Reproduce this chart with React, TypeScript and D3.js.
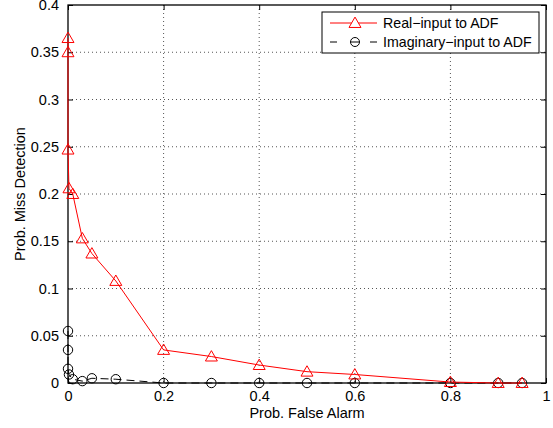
import React, { useEffect, useRef } from "react";
import * as d3 from "d3";

// Real-input to ADF
const realPfa = [0, 0, 0, 0.002, 0.01, 0.03, 0.05, 0.1, 0.2, 0.3, 0.4, 0.5, 0.6, 0.8, 0.9, 0.95];
const realPmd = [0.365, 0.35, 0.247, 0.206, 0.2, 0.153, 0.137, 0.108, 0.035, 0.028, 0.019, 0.012, 0.009, 0.001, 0, 0];

// Imaginary-input to ADF
const imagPfa = [0, 0, 0, 0.002, 0.01, 0.03, 0.05, 0.1, 0.2, 0.3, 0.4, 0.5, 0.6, 0.8, 0.9, 0.95];
const imagPmd = [0.055, 0.035, 0.015, 0.009, 0.004, 0.002, 0.005, 0.004, 0, 0, 0, 0, 0, 0, 0, 0];

const xTicks = [0, 0.2, 0.4, 0.6, 0.8, 1];
const yTicks = [0, 0.05, 0.1, 0.15, 0.2, 0.25, 0.3, 0.35, 0.4];

export default function App() {
  const svgRef = useRef<SVGSVGElement>(null);

  useEffect(() => {
    const width = 553;
    const height = 428;
    const margin = { top: 5, right: 7, bottom: 45, left: 68 };
    const innerW = width - margin.left - margin.right;
    const innerH = height - margin.top - margin.bottom;
    const font = "'Liberation Sans', Arial, Helvetica, sans-serif";
    const fs = 14.5;

    const svg = d3.select(svgRef.current);
    svg.selectAll("*").remove();
    svg.attr("width", width).attr("height", height);

    svg.append("rect").attr("width", width).attr("height", height).attr("fill", "white");

    const g = svg.append("g").attr("transform", `translate(${margin.left},${margin.top})`);

    const xScale = d3.scaleLinear().domain([0, 1]).range([0, innerW]);
    const yScale = d3.scaleLinear().domain([0, 0.4]).range([innerH, 0]);

    // grid
    g.append("g")
      .selectAll("line")
      .data(xTicks.slice(1, -1))
      .join("line")
      .attr("x1", (d) => xScale(d))
      .attr("x2", (d) => xScale(d))
      .attr("y1", 0)
      .attr("y2", innerH)
      .attr("stroke", "#555")
      .attr("stroke-width", 1)
      .attr("stroke-dasharray", "1,3");
    g.append("g")
      .selectAll("line")
      .data(yTicks.slice(1, -1))
      .join("line")
      .attr("x1", 0)
      .attr("x2", innerW)
      .attr("y1", (d) => yScale(d))
      .attr("y2", (d) => yScale(d))
      .attr("stroke", "#555")
      .attr("stroke-width", 1)
      .attr("stroke-dasharray", "1,3");

    // axes, ticks inside on all sides
    const tickLen = 5;
    const axisStyle = (sel: any) => {
      sel.select(".domain").remove();
      sel.selectAll("line").attr("stroke", "#000");
      sel.selectAll("text").attr("font-family", font).attr("font-size", fs).attr("fill", "#000");
    };

    g.append("g")
      .attr("transform", `translate(0,${innerH})`)
      .call(d3.axisBottom(xScale).tickValues(xTicks).tickSizeInner(-tickLen).tickSizeOuter(0).tickPadding(8).tickFormat(d3.format("")))
      .call(axisStyle);
    g.append("g")
      .call(d3.axisTop(xScale).tickValues(xTicks).tickSizeInner(-tickLen).tickSizeOuter(0).tickFormat(() => ""))
      .call(axisStyle);
    g.append("g")
      .call(d3.axisLeft(yScale).tickValues(yTicks).tickSizeInner(-tickLen).tickSizeOuter(0).tickPadding(9).tickFormat(d3.format("")))
      .call(axisStyle);
    g.append("g")
      .attr("transform", `translate(${innerW},0)`)
      .call(d3.axisRight(yScale).tickValues(yTicks).tickSizeInner(-tickLen).tickSizeOuter(0).tickFormat(() => ""))
      .call(axisStyle);

    g.append("rect")
      .attr("width", innerW)
      .attr("height", innerH)
      .attr("fill", "none")
      .attr("stroke", "#000")
      .attr("stroke-width", 1.3);

    const line = d3
      .line<[number, number]>()
      .x((d) => xScale(d[0]))
      .y((d) => yScale(d[1]));

    const realData: [number, number][] = realPfa.map((x, i) => [x, realPmd[i]]);
    const imagData: [number, number][] = imagPfa.map((x, i) => [x, imagPmd[i]]);

    const tri = d3.symbol().type(d3.symbolTriangle).size(62);

    // imaginary series
    g.append("path")
      .datum(imagData)
      .attr("d", line)
      .attr("fill", "none")
      .attr("stroke", "#000")
      .attr("stroke-width", 1)
      .attr("stroke-dasharray", "8,5");
    g.append("g")
      .selectAll("circle")
      .data(imagData)
      .join("circle")
      .attr("cx", (d) => xScale(d[0]))
      .attr("cy", (d) => yScale(d[1]))
      .attr("r", 4.7)
      .attr("fill", "none")
      .attr("stroke", "#000")
      .attr("stroke-width", 1);

    // real series
    g.append("path")
      .datum(realData)
      .attr("d", line)
      .attr("fill", "none")
      .attr("stroke", "#ff0000")
      .attr("stroke-width", 1);
    g.append("g")
      .selectAll("path")
      .data(realData)
      .join("path")
      .attr("d", tri)
      .attr("transform", (d) => `translate(${xScale(d[0])},${yScale(d[1]) + 1})`)
      .attr("fill", "none")
      .attr("stroke", "#ff0000")
      .attr("stroke-width", 1);

    // legend
    const lg = svg.append("g").attr("transform", "translate(322,12)");
    lg.append("rect")
      .attr("width", 217)
      .attr("height", 41)
      .attr("fill", "white")
      .attr("stroke", "#000")
      .attr("stroke-width", 1);
    lg.append("line").attr("x1", 8).attr("x2", 55).attr("y1", 11).attr("y2", 11).attr("stroke", "#ff0000");
    lg.append("path").attr("d", tri).attr("transform", "translate(33,12)").attr("fill", "white").attr("stroke", "#ff0000");
    lg.append("line").attr("x1", 8).attr("x2", 15).attr("y1", 30).attr("y2", 30).attr("stroke", "#000");
    lg.append("line").attr("x1", 48).attr("x2", 55).attr("y1", 30).attr("y2", 30).attr("stroke", "#000");
    lg.append("circle").attr("cx", 33).attr("cy", 30).attr("r", 4.5).attr("fill", "white").attr("stroke", "#000");
    lg.append("line").attr("x1", 28.5).attr("x2", 37.5).attr("y1", 30).attr("y2", 30).attr("stroke", "#000");
    lg.append("text").attr("x", 61).attr("y", 16).attr("font-family", font).attr("font-size", 14.2).text("Real\u2212input to ADF");
    lg.append("text").attr("x", 61).attr("y", 35).attr("font-family", font).attr("font-size", 14.2).text("Imaginary\u2212input to ADF");

    // axis labels
    svg.append("text")
      .attr("x", margin.left + innerW / 2)
      .attr("y", 418)
      .attr("text-anchor", "middle")
      .attr("font-family", font)
      .attr("font-size", fs)
      .text("Prob. False Alarm");
    svg.append("text")
      .attr("transform", `translate(25,${margin.top + innerH / 2}) rotate(-90)`)
      .attr("text-anchor", "middle")
      .attr("font-family", font)
      .attr("font-size", fs)
      .text("Prob. Miss Detection");
  }, []);

  return (
    <div>
      <svg ref={svgRef} style={{ position: "absolute", left: 0, top: 0, display: "block" }}></svg>
    </div>
  );
}
